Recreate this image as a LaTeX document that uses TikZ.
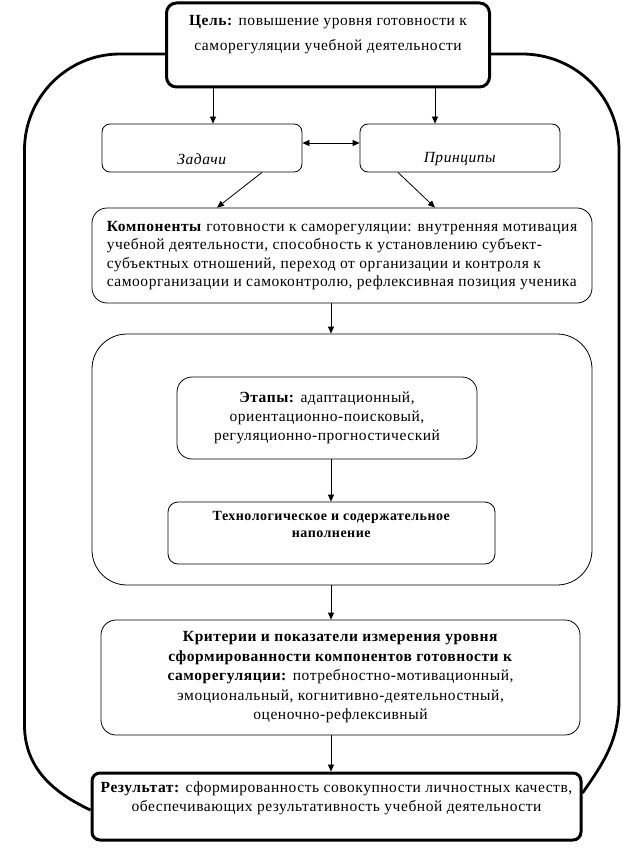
\documentclass[tikz,border=0pt]{standalone}
\usepackage{fontspec}
\setmainfont{Liberation Serif}[LetterSpace=3.5]
\usetikzlibrary{arrows.meta, positioning}

\begin{document}
\begin{tikzpicture}[
		x=1pt, y=-1pt,
		every node/.style={font=\fontsize{15.5}{19}\selectfont, align=center, inner sep=0pt},
		box/.style={draw, line width=0.8pt, rounded corners=12pt, fill=white},
		keybox/.style={draw, line width=3pt, rounded corners=10pt, fill=white},
		arr/.style={-{Triangle[length=7pt,width=6pt]}, line width=0.8pt},
		loopline/.style={line width=2.8pt}
		]
		\useasboundingbox (0,0) rectangle (622,848);
		% Goal and the two upper boxes
		\node[keybox, minimum width=323pt, minimum height=84pt, font=\fontsize{15.5}{25}\selectfont] (goal) at (328,45)
		{\textbf{Цель:} повышение уровня готовности к\\ саморегуляции учебной деятельности\\ \mbox{}};
		\node[box, rounded corners=8pt, minimum width=200pt, minimum height=48pt] (tasks) at (202,148) {\strut\\ \textit{Задачи}};
		\node[box, rounded corners=8pt, minimum width=200pt, minimum height=48pt] (principles) at (460,148) {\strut\\ \textit{Принципы}};
		% Components
		\node[box, rounded corners=15pt, minimum width=500pt, minimum height=95pt, align=left, font=\fontsize{15.5}{18.5}\selectfont] (comp) at (342,255.5)
		{\textbf{Компоненты} готовности к саморегуляции: внутренняя мотивация\\ учебной деятельности, способность к установлению субъект-\\ субъектных отношений, переход от организации и контроля к\\ самоорганизации и самоконтролю, рефлексивная позиция ученика};
		% Stages frame with its two boxes
		\node[box, rounded corners=35pt, minimum width=500pt, minimum height=251pt] (frame) at (342,459.5) {};
		\node[box, rounded corners=15pt, minimum width=300pt, minimum height=82pt] (stages) at (327,418)
		{\textbf{Этапы:} адаптационный,\\ ориентационно-поисковый,\\ регуляционно-прогностический};
		\node[box, rounded corners=10pt, minimum width=327pt, minimum height=62pt, font=\fontsize{14}{17}\selectfont] (techno) at (331.5,533)
		{\textbf{Технологическое и содержательное}\\ \textbf{наполнение}\\ \mbox{}};
		% Criteria and result
		\node[box, rounded corners=15pt, minimum width=479pt, minimum height=115pt, font=\fontsize{15.5}{19.5}\selectfont] (crit) at (340.5,677.5)
		{\textbf{Критерии и показатели измерения уровня}\\ \textbf{сформированности компонентов готовности к}\\ \textbf{саморегуляции:} потребностно-мотивационный,\\ эмоциональный, когнитивно-деятельностный,\\ оценочно-рефлексивный};
		\node[keybox, rounded corners=8pt, minimum width=489pt, minimum height=67pt] (result) at (336.5,806.5)
		{\textbf{Результат:} сформированность совокупности личностных качеств,\\ обеспечивающих результативность учебной деятельности\\ \mbox{}};
		
		% Outer loop from goal to result
		\draw[loopline] ([yshift=-9pt]goal.west) -- (120,54) to[out=180,in=90] (24.5,150) -- (24.5,725) to[out=-90,in=155] ([yshift=-3.5pt]result.west);
		\draw[loopline] ([yshift=-9pt]goal.east) -- (522,54) to[out=0,in=90] (619,150) -- (619,700) to[out=-90,in=55] ([yshift=13.5pt]result.east);
		
		% Arrows
		\coordinate (t1) at ([xshift=11pt]tasks.north);
		\coordinate (p1) at ([xshift=-25pt]principles.north);
		\coordinate (axis) at (331,0);
		\draw[arr] (t1 |- goal.south) -- (t1);
		\draw[arr] (p1 |- goal.south) -- (p1);
		\draw[{Triangle[length=7pt,width=6pt]}-{Triangle[length=7pt,width=6pt]}, line width=0.8pt] ([yshift=5pt]tasks.east) -- ([yshift=5pt]principles.west);
		\draw[arr] ([xshift=60pt]tasks.south) -- ([xshift=-125pt]comp.north);
		\draw[arr] ([xshift=-62pt]principles.south) -- ([xshift=93pt]comp.north);
		\draw[arr] (comp.south -| axis) -- (frame.north -| axis);
		\draw[arr] (stages.south -| axis) -- (techno.north -| axis);
		\draw[arr] (frame.south -| axis) -- (crit.north -| axis);
		\draw[arr] (crit.south -| axis) -- (result.north -| axis);
	\end{tikzpicture}
\end{document}
